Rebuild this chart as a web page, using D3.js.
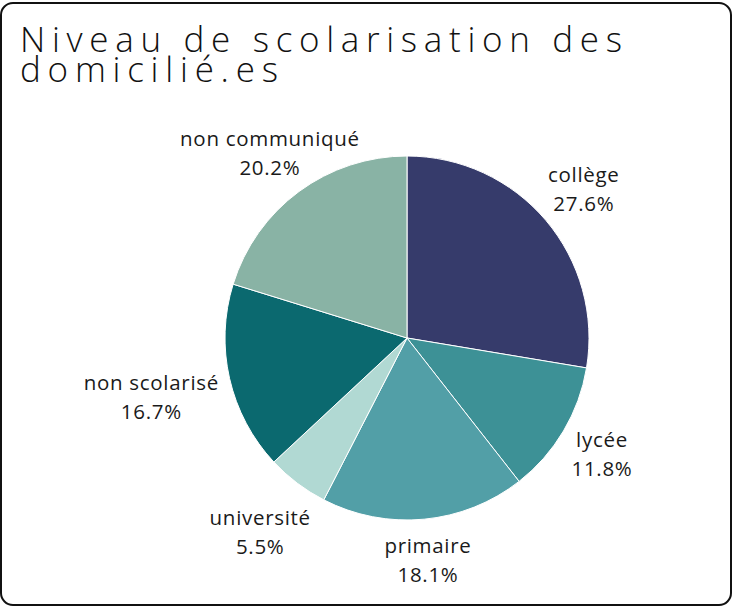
<!DOCTYPE html>
<html><head><meta charset="utf-8">
<script src="https://cdn.jsdelivr.net/npm/d3@7"></script>
<style>html,body{margin:0;padding:0;background:#fff;}</style>
</head><body>
<svg id="chart" width="740" height="607"></svg>
<script>
const categories = ["collège","lycée","primaire","université","non scolarisé","non communiqué"];
const values = [27.6, 11.8, 18.1, 5.5, 16.7, 20.2];
const colors = ["#363b6b","#3d9196","#529fa7","#b1d9d3","#0b696f","#89b3a5"];
const titleLines = ["Niveau de scolarisation des","domicilié.es"];

const svg = d3.select("#chart");
svg.append("rect").attr("x",1).attr("y",3).attr("width",730).attr("height",602)
  .attr("rx",12).attr("fill","#fff").attr("stroke","#111").attr("stroke-width",2);

const title = svg.append("text").attr("font-family","'Open Sans', Lato, sans-serif")
  .attr("font-weight",300).attr("font-size",35).attr("fill","#111");
title.append("tspan").attr("x",20).attr("y",52).attr("textLength",602).attr("lengthAdjust","spacing").text(titleLines[0]);
title.append("tspan").attr("x",20).attr("y",82).attr("textLength",258).attr("lengthAdjust","spacing").text(titleLines[1]);

const cx = 407, cy = 338, r = 182;
const g = svg.append("g").attr("transform",`translate(${cx},${cy})`);
const data = categories.map((c,i)=>({cat:c, value:values[i], color:colors[i]}));
const pie = d3.pie().value(d=>d.value).sort(null);
const arc = d3.arc().innerRadius(0).outerRadius(r);
const arcs = pie(data);
g.selectAll("path").data(arcs).join("path").attr("d",arc)
  .attr("fill",d=>d.data.color).attr("stroke","#fff").attr("stroke-width",1);

const total = d3.sum(values);
const R = 190, lh = 29;
arcs.forEach(d=>{
  const a = (d.startAngle+d.endAngle)/2;
  const s = Math.sin(a), c = Math.cos(a);
  const t = g.append("text").attr("font-family","'Open Sans', Lato, sans-serif")
    .attr("font-size",20.5).attr("fill","#1a1a1a").attr("text-anchor","middle")
    .attr("letter-spacing",0.7);
  const t1 = t.append("tspan").attr("x",0).attr("dy",0).text(d.data.cat);
  const t2 = t.append("tspan").attr("x",0).attr("dy",lh).text((d.data.value/total*100).toFixed(1)+"%");
  const bb = t.node().getBBox();
  // width of the line nearest to the pie
  const w = (c > 0) ? t2.node().getComputedTextLength() : t1.node().getComputedTextLength();
  const h = bb.height;
  const dist = R + Math.abs(s)*w/2 + Math.abs(c)*h/2;
  const ccx = s*dist, ccy = -c*dist;
  const bcx = bb.x + bb.width/2, bcy = bb.y + h/2;
  t.attr("transform",`translate(${ccx-bcx},${ccy-bcy})`);
});
</script>
</body></html>
